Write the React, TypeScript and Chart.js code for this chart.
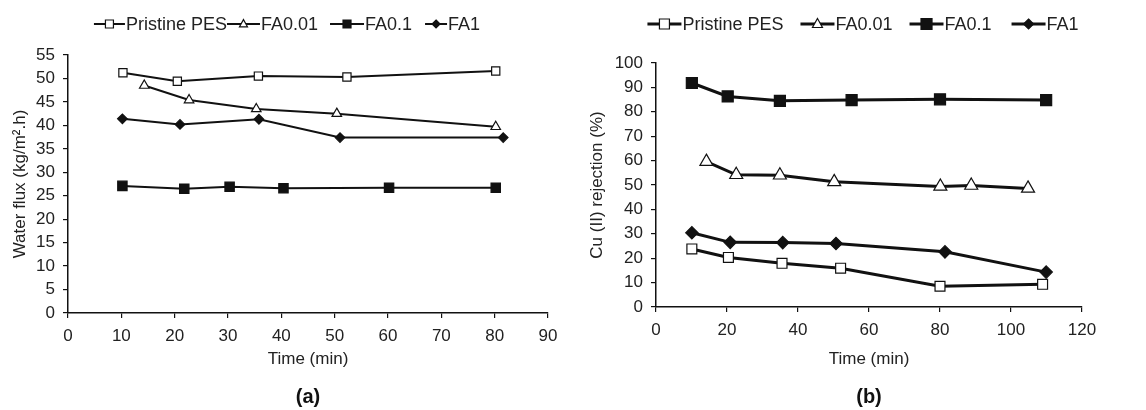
import React, { useEffect, useRef } from 'react';
import { Chart, registerables } from 'chart.js';

Chart.register(...registerables);

// ---------- data ----------
const SERIES_NAMES = ['Pristine PES', 'FA0.01', 'FA0.1', 'FA1'];

// Panel (a): water flux (kg/m2.h) vs time (min)
const A_PES_T = [10.3, 20.5, 35.7, 52.3, 80.2];
const A_PES_V = [51.2, 49.4, 50.5, 50.3, 51.6];
const A_FA001_T = [14.3, 22.7, 35.3, 50.4, 80.2];
const A_FA001_V = [48.5, 45.4, 43.5, 42.5, 39.7];
const A_FA01_T = [10.2, 21.8, 30.3, 40.4, 60.2, 80.2];
const A_FA01_V = [27.1, 26.5, 26.9, 26.6, 26.7, 26.7];
const A_FA1_T = [10.2, 21.0, 35.8, 51.0, 81.6];
const A_FA1_V = [41.4, 40.2, 41.3, 37.4, 37.4];

// Panel (b): Cu(II) rejection (%) vs time (min)
const B_PES_T = [10.1, 20.4, 35.5, 52.0, 80.0, 108.9];
const B_PES_V = [23.8, 20.3, 17.9, 15.9, 8.5, 9.3];
const B_FA001_T = [14.2, 22.6, 34.9, 50.2, 80.1, 88.8, 104.8];
const B_FA001_V = [59.6, 54.2, 54.0, 51.3, 49.4, 49.8, 48.6];
const B_FA01_T = [10.1, 20.2, 34.9, 55.1, 80.0, 109.9];
const B_FA01_V = [91.8, 86.3, 84.5, 84.8, 85.1, 84.8];
const B_FA1_T = [10.1, 20.9, 35.7, 50.7, 81.4, 109.9];
const B_FA1_V = [30.4, 26.5, 26.4, 26.0, 22.6, 14.3];

// axis ranges [min, max, step]
const A_X_AXIS = [0, 90, 10];
const A_Y_AXIS = [0, 55, 5];
const B_X_AXIS = [0, 120, 20];
const B_Y_AXIS = [0, 100, 10];

const X_TITLE = 'Time (min)';
const A_Y_TITLE = 'Water flux (kg/m\u00B2.h)';
const B_Y_TITLE = 'Cu (II) rejection (%)';
const PANEL_LABELS = ['(a)', '(b)'];

// ---------- styles ----------
const FONT = "'Liberation Sans', Arial, Helvetica, sans-serif";
const INK = '#111';
const TEXT = '#222';
const POINT_STYLES = ['rect', 'triangle', 'rect', 'rectRot'];
const POINT_FILLS = ['#fff', '#fff', '#111', '#111'];

function drawMarker(ctx: CanvasRenderingContext2D, style: string, fill: string, x: number, y: number, s: number, lw: number) {
  ctx.beginPath();
  if (style === 'rect') {
    ctx.rect(x - s / 2, y - s / 2, s, s);
  } else if (style === 'triangle') {
    ctx.moveTo(x, y - s * 0.55);
    ctx.lineTo(x + s / 2, y + s * 0.35);
    ctx.lineTo(x - s / 2, y + s * 0.35);
    ctx.closePath();
  } else {
    ctx.moveTo(x, y - s / 2);
    ctx.lineTo(x + s / 2, y);
    ctx.lineTo(x, y + s / 2);
    ctx.lineTo(x - s / 2, y);
    ctx.closePath();
  }
  ctx.fillStyle = fill;
  ctx.fill();
  ctx.lineWidth = lw;
  ctx.strokeStyle = INK;
  ctx.stroke();
}

type Decor = {
  centerX: number;
  y: number;
  fontSize: number;
  symbolW: number[];
  gaps: number[];
  markerSize: number[];
  lineW: number;
  panel: string;
  panelY: number;
};

function makeDecor(o: Decor) {
  return {
    id: 'panelDecor',
    afterDraw(chart: any) {
      const ctx: CanvasRenderingContext2D = chart.ctx;
      const area = chart.chartArea;
      ctx.save();
      ctx.font = `${o.fontSize}px ${FONT}`;
      ctx.textBaseline = 'middle';
      ctx.textAlign = 'left';
      const ds = chart.data.datasets;
      const widths = ds.map((d: any, i: number) => o.symbolW[i] + 1 + ctx.measureText(d.label).width);
      const total = widths.reduce((a: number, b: number) => a + b, 0) + o.gaps.reduce((a, b) => a + b, 0);
      let x = o.centerX - total / 2;
      ds.forEach((d: any, i: number) => {
        x += o.gaps[i];
        const sw = o.symbolW[i];
        ctx.strokeStyle = INK;
        ctx.lineWidth = o.lineW;
        ctx.beginPath();
        ctx.moveTo(x, o.y);
        ctx.lineTo(x + sw, o.y);
        ctx.stroke();
        drawMarker(ctx, d.pointStyle, d.pointBackgroundColor, x + sw / 2, o.y, o.markerSize[i], 1.2);
        ctx.fillStyle = TEXT;
        ctx.font = `${o.fontSize}px ${FONT}`;
        ctx.fillText(d.label, x + sw + 1, o.y + 1);
        x += widths[i];
      });
      ctx.font = `bold ${20}px ${FONT}`;
      ctx.textAlign = 'center';
      ctx.fillStyle = INK;
      ctx.fillText(o.panel, (area.left + area.right) / 2, o.panelY);
      ctx.restore();
    },
  };
}

function toPoints(xs: number[], ys: number[]) {
  return xs.map((x, i) => ({ x, y: ys[i] }));
}

function makeDatasets(series: [number[], number[]][], lineW: number, radii: number[]) {
  return series.map(([xs, ys], i) => ({
    label: SERIES_NAMES[i],
    data: toPoints(xs, ys),
    borderColor: INK,
    borderWidth: lineW,
    pointStyle: POINT_STYLES[i],
    pointRadius: radii[i],
    pointHoverRadius: radii[i],
    pointBackgroundColor: POINT_FILLS[i],
    pointBorderColor: INK,
    pointBorderWidth: 1.2,
    tension: 0,
    fill: false,
    clip: false as any,
  }));
}

function axisOpts(range: number[], title: string, titlePad: any, fit: (s: any) => void) {
  return {
    type: 'linear' as const,
    min: range[0],
    max: range[1],
    ticks: { stepSize: range[2], padding: 8, color: TEXT, font: { family: FONT, size: 17 } },
    grid: { display: true, drawOnChartArea: false, drawTicks: true, tickLength: 5, color: INK, lineWidth: 1.2 },
    border: { display: true, color: INK, width: 1.5 },
    title: { display: true, text: title, color: TEXT, font: { family: FONT, size: 17 }, padding: titlePad },
    afterFit: fit,
  };
}

function buildConfig(
  series: [number[], number[]][],
  xr: number[],
  yr: number[],
  yTitle: string,
  lineW: number,
  radii: number[],
  yAxisW: number,
  xAxisH: number,
  padTop: number,
  padRight: number,
  yTitlePad: number,
  decor: Decor
): any {
  return {
    type: 'line',
    data: { datasets: makeDatasets(series, lineW, radii) },
    options: {
      animation: false,
      responsive: false,
      events: [],
      layout: { padding: { top: padTop, right: padRight, bottom: 0, left: 0 } },
      plugins: { legend: { display: false }, tooltip: { enabled: false }, title: { display: false } },
      scales: {
        x: axisOpts(xr, X_TITLE, { top: 0, bottom: 40 }, (s: any) => { s.height = xAxisH; }),
        y: axisOpts(yr, yTitle, { top: yTitlePad, bottom: 0 }, (s: any) => { s.width = yAxisW; }),
      },
    },
    plugins: [makeDecor(decor)],
  };
}

function ChartCanvas({ make }: { make: () => any }) {
  const ref = useRef<HTMLCanvasElement | null>(null);
  useEffect(() => {
    if (!ref.current) return;
    const chart = new Chart(ref.current, make());
    return () => chart.destroy();
  }, [make]);
  return <canvas ref={ref} width={573} height={410} style={{ display: 'block', width: 573, height: 410 }} />;
}

const makeA = () =>
  buildConfig(
    [[A_PES_T, A_PES_V], [A_FA001_T, A_FA001_V], [A_FA01_T, A_FA01_V], [A_FA1_T, A_FA1_V]],
    A_X_AXIS,
    A_Y_AXIS,
    A_Y_TITLE,
    2,
    [5.8, 5.5, 6.6, 4.8],
    68,
    410 - 313,
    55,
    25,
    10,
    {
      centerX: 287,
      y: 24,
      fontSize: 18,
      symbolW: [31, 33, 34, 22],
      gaps: [0, 0, 12, 13],
      markerSize: [8, 8, 8, 8],
      lineW: 2,
      panel: PANEL_LABELS[0],
      panelY: 397,
    }
  );

const makeB = () =>
  buildConfig(
    [[B_PES_T, B_PES_V], [B_FA001_T, B_FA001_V], [B_FA01_T, B_FA01_V], [B_FA1_T, B_FA1_V]],
    B_X_AXIS,
    B_Y_AXIS,
    B_Y_TITLE,
    3,
    [7, 7.5, 7.8, 6.2],
    83,
    410 - 307,
    63,
    64,
    14,
    {
      centerX: 290,
      y: 24,
      fontSize: 18,
      symbolW: [34, 34, 34, 34],
      gaps: [0, 17, 17, 20],
      markerSize: [10, 10, 11, 10],
      lineW: 3,
      panel: PANEL_LABELS[1],
      panelY: 397,
    }
  );

export default function App() {
  return (
    <div style={{ position: 'fixed', left: 0, top: 0, width: 1146, height: 410, background: '#fff', overflow: 'hidden' }}>
      <div style={{ position: 'absolute', left: 0, top: 0 }}>
        <ChartCanvas make={makeA} />
      </div>
      <div style={{ position: 'absolute', left: 573, top: 0 }}>
        <ChartCanvas make={makeB} />
      </div>
    </div>
  );
}
